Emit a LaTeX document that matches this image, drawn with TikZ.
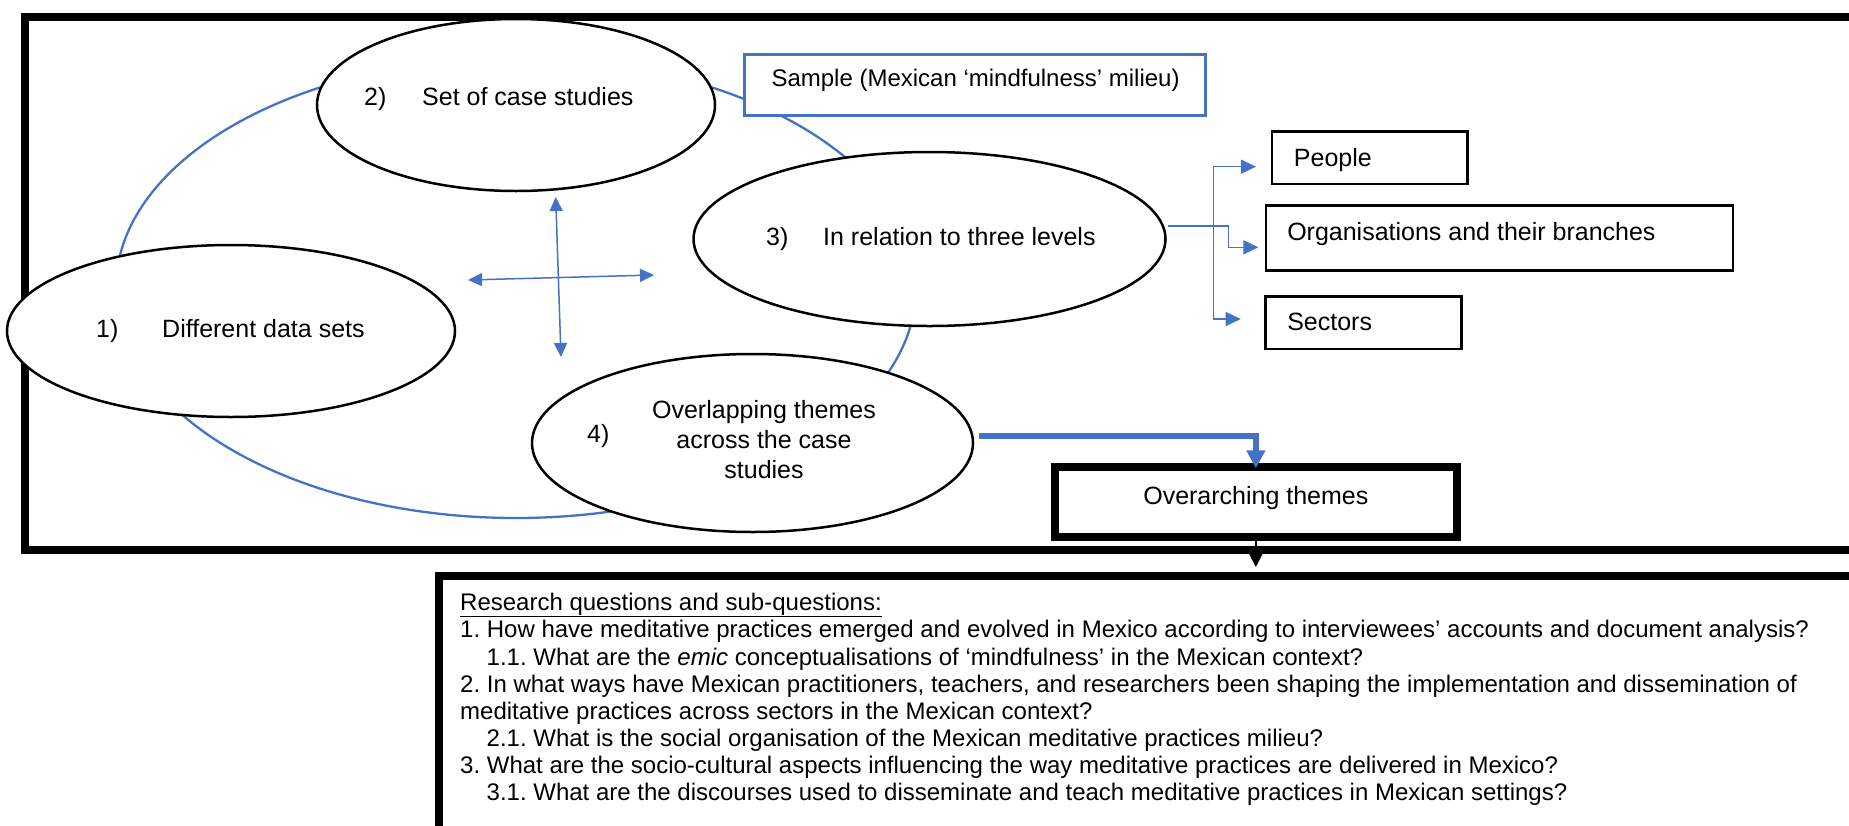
\documentclass[tikz,border=0pt]{standalone}
\usepackage{fontspec}
\setmainfont{Liberation Sans}
\usetikzlibrary{arrows.meta,shapes.geometric,calc}
\definecolor{wordblue}{HTML}{4472C4}
\newcommand\padtext[2]{\makebox[#1][l]{#2}}
\frenchspacing

\begin{document}
\begin{tikzpicture}[x=1pt,y=-1pt,
  bigfont/.style={font=\fontsize{25}{30}\selectfont},
  oval/.style={ellipse, draw=black, line width=2.5pt, fill=white, inner sep=0pt},
  lbl/.style={bigfont, inner sep=0pt, anchor=base west},
  lblc/.style={bigfont, inner sep=0pt, anchor=base},
  levelbox/.style={draw=black, line width=2.5pt, fill=white, anchor=north west,
    inner ysep=0pt, bigfont, text height=18pt},
  heavybox/.style={draw=black, line width=8pt, inner sep=0pt, anchor=north west},
  cross/.style={wordblue, line width=1.5pt,
    {Triangle[length=14pt,width=13pt]}-{Triangle[length=14pt,width=13pt]}},
  lvl/.style={wordblue, line width=1.5pt, -{Triangle[length=15pt,width=14pt]}},
  rq/.style={font=\fontsize{24}{27.2}\selectfont, inner sep=0pt, anchor=base west}
]
\clip (0,0) rectangle (1849,825);
\fill[white] (0,0) rectangle (1849,825);

% outer frame and research-question panel
\node[heavybox, minimum width=1849pt, minimum height=533.5pt] (frame) at (21,12.5) {};
\node[heavybox, minimum width=1440pt, minimum height=256pt] (rqbox) at (435,572) {};

% ring linking the four stages
\node[ellipse, draw=wordblue, line width=2.3pt, inner sep=0pt,
      minimum width=800pt, minimum height=460pt] (ring) at (516,288) {};

% cross of double arrows in the middle
\coordinate (vt) at (555.7,197);
\coordinate (vb) at (561,357);
\coordinate (hl) at (468,280);
\coordinate (hr) at (654,275);
\draw[cross] (vt) -- (vb);
\draw[cross] (hl) -- (hr);

% the four stages
\node[oval, minimum width=448pt, minimum height=172pt] (e1) at (231,331) {};
\node[oval, minimum width=398pt, minimum height=172pt] (e2) at (516,105) {};
\node[oval, minimum width=472pt, minimum height=174pt] (e3) at (929.5,239) {};
\node[oval, minimum width=441pt, minimum height=178pt] (e4) at (752.5,443) {};

\node[lbl] (n1) at (96,337) {1)};
\node[lbl] (t1) at (162,337) {Different data sets};
\node[lbl] (n2) at (364,105) {2)};
\node[lbl] (t2) at (422,105) {Set of case studies};
\node[lbl] (n3) at (766,245) {3)};
\node[lbl] (t3) at (823,245) {In relation to three levels};
\node[lbl] (n4) at (587,442) {4)};
\node[lblc] (t4a) at (764,418) {Overlapping themes};
\node[lblc] (t4b) at (764,448) {across the case};
\node[lblc] (t4c) at (764,478.5) {studies};

% sample box
\node[levelbox, draw=wordblue, line width=3pt, inner xsep=27pt,
      minimum height=61.5pt, text depth=14.5pt, font=\fontsize{24}{29}\selectfont] (sample) at (743,52.5)
      {\padtext{407pt}{Sample (Mexican ‘mindfulness’ milieu)}};

% the three levels
\node[levelbox, inner xsep=22pt, minimum height=52.7pt, text depth=0.7pt] (people) at (1270.7,130)
      {\padtext{151.3pt}{People}};
\node[levelbox, inner xsep=21.3pt, minimum height=64.7pt, text depth=13.3pt] (orgs) at (1264.7,204.3)
      {\padtext{424.2pt}{Organisations and their branches}};
\node[levelbox, inner xsep=22pt, minimum height=52.7pt, text depth=2.1pt] (sectors) at (1264,295)
      {\padtext{152pt}{Sectors}};

% overarching themes
\node[draw=black, line width=8pt, fill=white, anchor=north west, inner sep=0pt,
      minimum width=401.7pt, minimum height=70pt, bigfont,
      text height=18pt, text depth=14pt] (ov) at (1051,463) {Overarching themes};

% elbow connectors from stage 3 to the levels
\coordinate (c3) at ([xshift=1pt,yshift=13pt]e3.east);
\coordinate (toP) at (1256,166.7);
\coordinate (toO) at (1258.3,247.3);
\coordinate (toS) at (1240.7,319);
\draw[lvl] (c3) -- (1213.3,226) |- (toP);
\draw[lvl] (c3) -- (1228.3,226) |- (toO);
\draw[lvl] (c3) -- (1213.3,226) |- (toS);

% stage 4 to overarching themes, then on to the research questions
\draw[wordblue, line width=5.7pt, -{Triangle[length=18pt,width=18pt]}]
  ([xshift=5pt,yshift=7pt]e4.east) -| ([yshift=-5.3pt]ov.north);
\draw[black, line width=2pt, -{Triangle[length=15pt,width=15pt]}]
  (ov.south) -- ($(ov.south |- rqbox.north)+(0,-5)$);

% research questions
\node[rq] (q0) at (460,610) {\underline{Research questions and sub-questions:}};
\node[rq] (q1) at (460,637.5) {1. How have meditative practices emerged and evolved in Mexico according to interviewees’ accounts and document analysis?};
\node[rq] (q11) at (486.5,665) {1.1. What are the \textit{emic} conceptualisations of ‘mindfulness’ in the Mexican context?};
\node[rq] (q2) at (460,692) {2. In what ways have Mexican practitioners, teachers, and researchers been shaping the implementation and dissemination of};
\node[rq] (q2b) at (460,719) {meditative practices across sectors in the Mexican context?};
\node[rq] (q21) at (486.5,746.5) {2.1. What is the social organisation of the Mexican meditative practices milieu?};
\node[rq] (q3) at (460,773) {3. What are the socio-cultural aspects influencing the way meditative practices are delivered in Mexico?};
\node[rq] (q31) at (486.5,800) {3.1. What are the discourses used to disseminate and teach meditative practices in Mexican settings?};
\end{tikzpicture}
\end{document}
